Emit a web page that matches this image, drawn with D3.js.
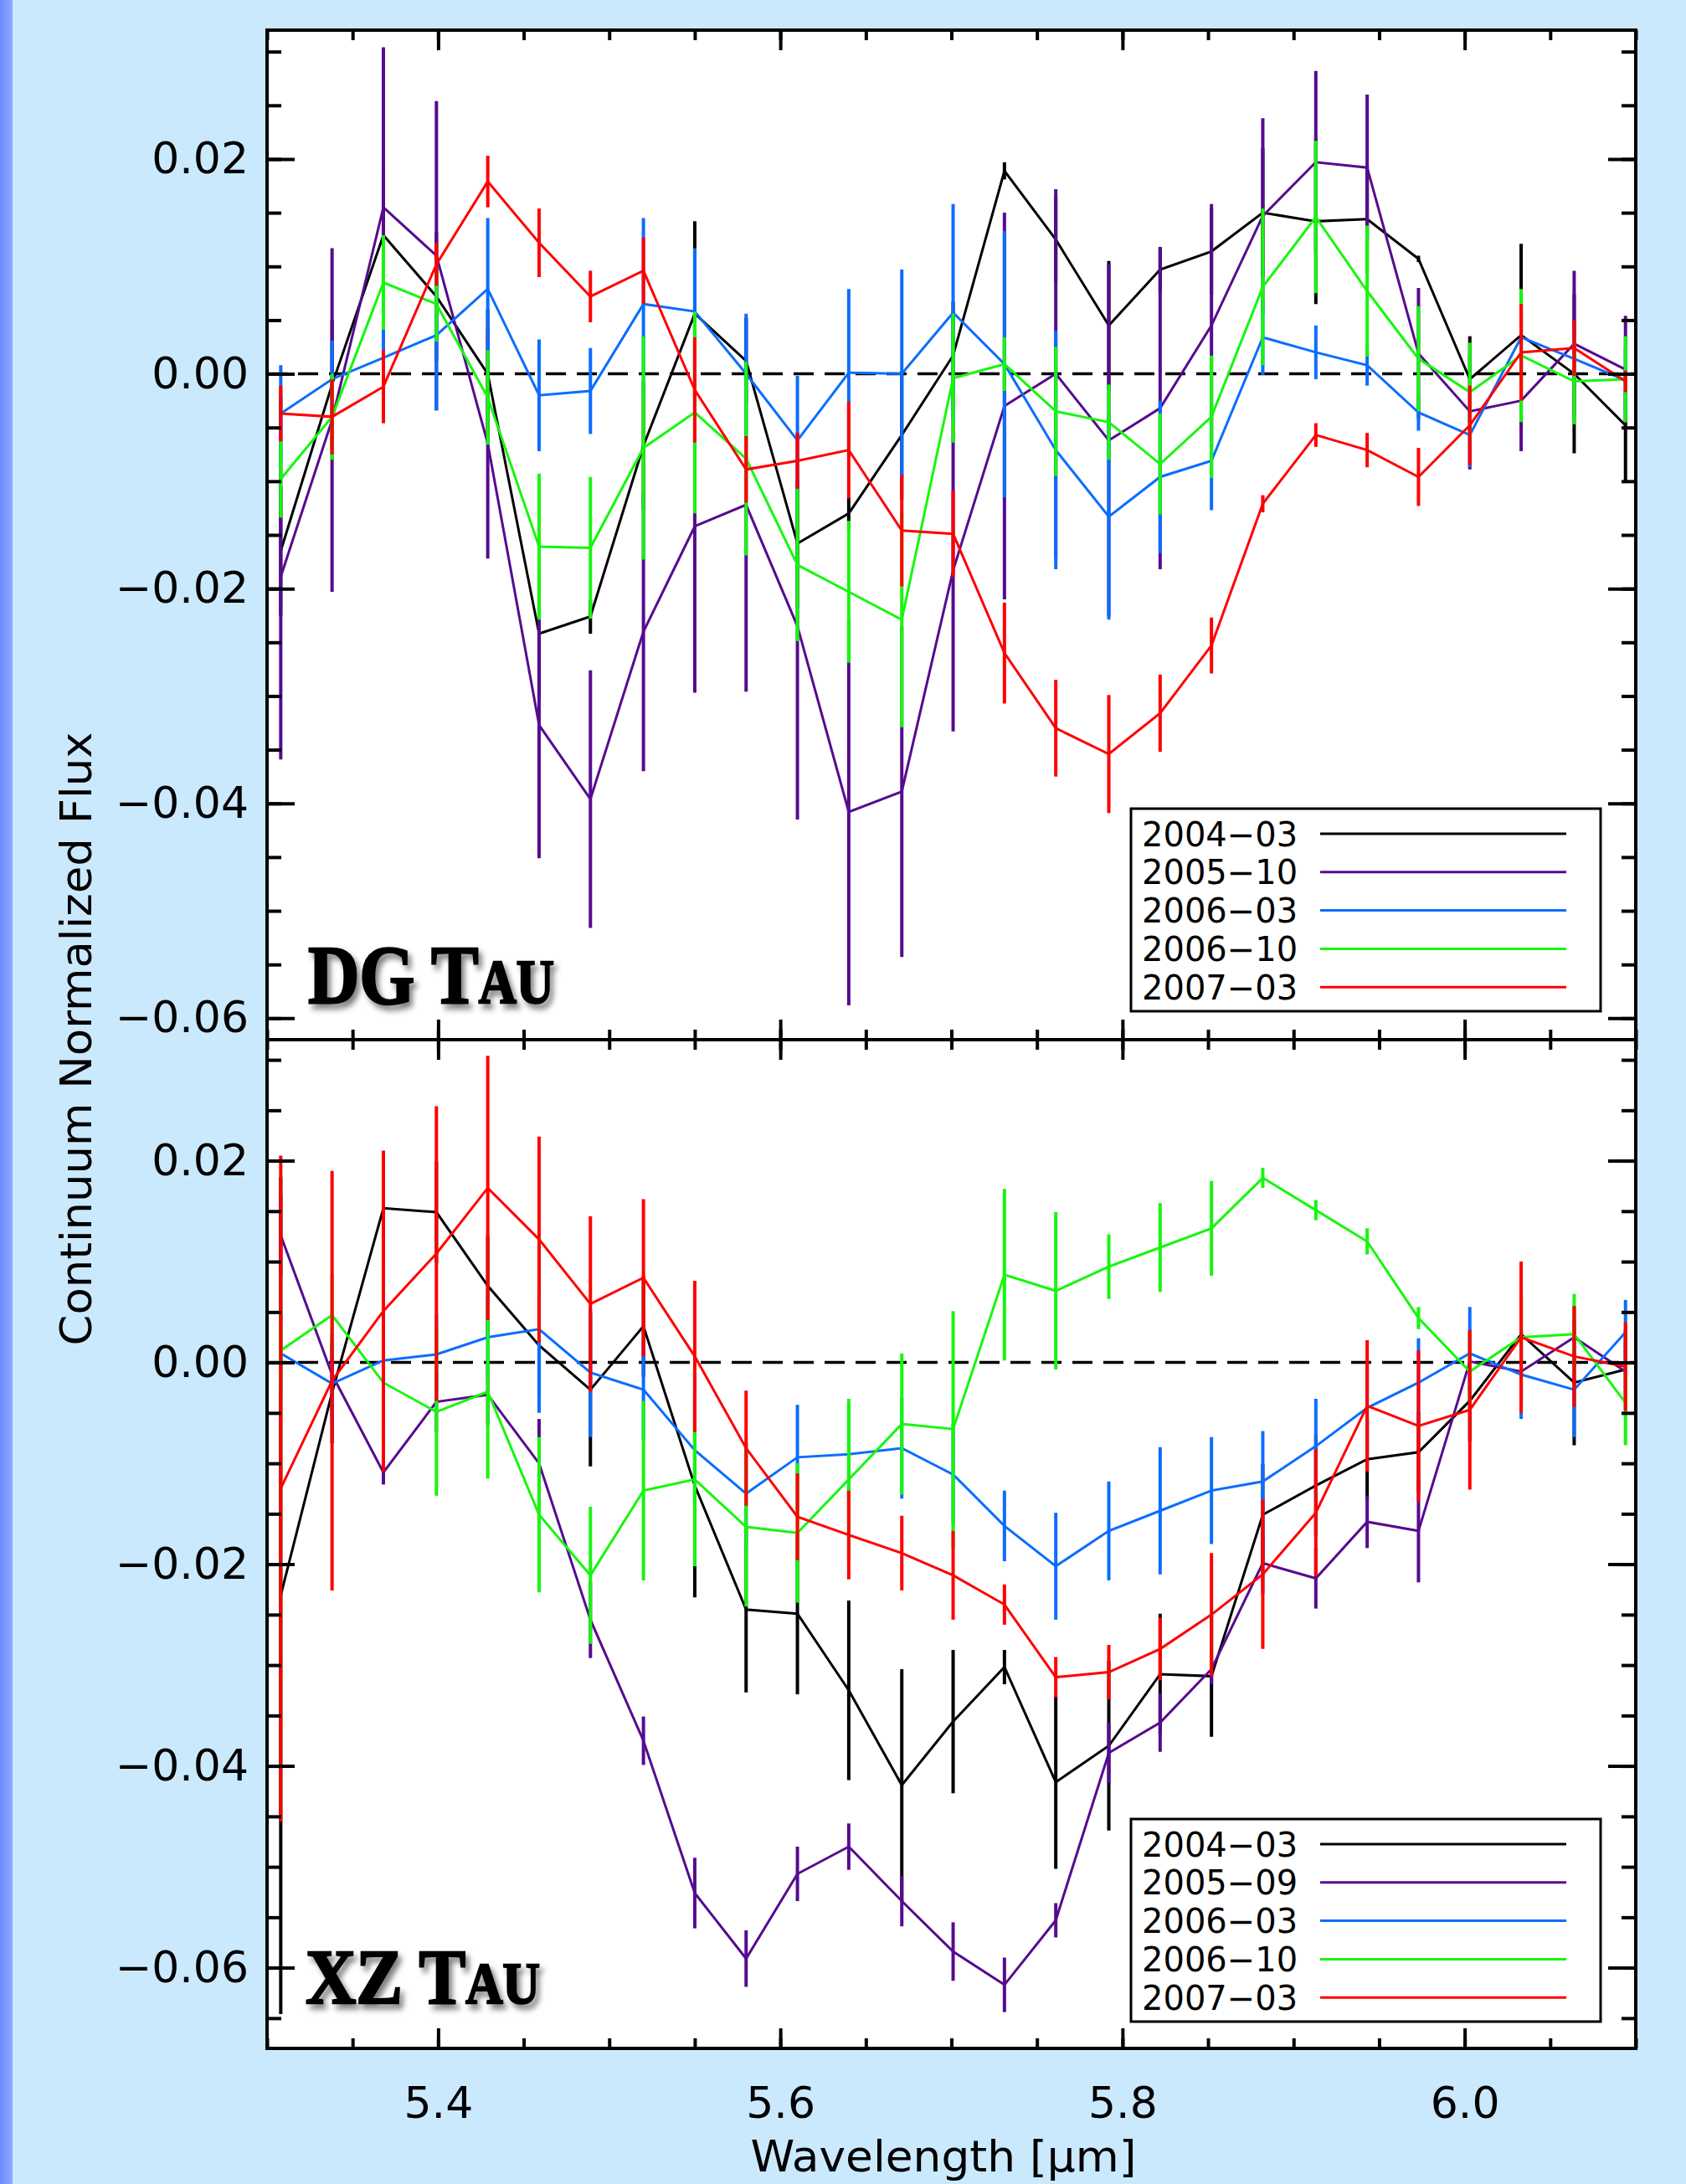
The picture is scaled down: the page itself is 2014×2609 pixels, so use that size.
<!DOCTYPE html>
<html>
<head>
<meta charset="utf-8">
<script src="https://cdn.jsdelivr.net/npm/d3@7"></script>
<style>
html, body { margin: 0; padding: 0; background: #cbe9fd; }
svg { display: block; }
</style>
</head>
<body>
<svg id="fig" width="2014" height="2609" font-family="DejaVu Sans, sans-serif"></svg>
<script>
// wavelength of each spectral bin (micron)
var wave = [5.308, 5.338, 5.368, 5.399, 5.429, 5.459, 5.489, 5.520, 5.550, 5.580,
            5.610, 5.640, 5.671, 5.701, 5.731, 5.761, 5.792, 5.822, 5.852, 5.882,
            5.913, 5.943, 5.973, 6.003, 6.033, 6.064, 6.094];

// DG Tau
var dg0403 = [-0.0165, -0.0010, 0.0129, 0.0072, 0.0000, -0.0242, -0.0226, -0.0067, 0.0056, 0.0012, -0.0158, -0.0130, -0.0057, 0.0017, 0.0189, 0.0125, 0.0045, 0.0097, 0.0114, 0.0150, 0.0142, 0.0144, 0.0107, -0.0005, 0.0036, 0.0000, -0.0048];
var dg0403Err = [0.006, 0.006, 0.006, 0.006, 0.006, 0.006, 0.0016, 0.006, 0.0086, 0.004, 0.006, 0.0015, 0.006, 0.005, 0.0008, 0.004, 0.006, 0.0021, 0.004, 0.006, 0.0077, 0.005, 0.0003, 0.004, 0.0085, 0.0074, 0.0052];
var dg0510 = [-0.0189, -0.0043, 0.0155, 0.0110, -0.0065, -0.0327, -0.0396, -0.0240, -0.0142, -0.0122, -0.0235, -0.0408, -0.0389, -0.0183, -0.0030, 0.0000, -0.0062, -0.0032, 0.0045, 0.0147, 0.0197, 0.0192, 0.0019, -0.0035, -0.0025, 0.0028, 0.0004];
var dg0510Err = [0.017, 0.016, 0.0149, 0.0144, 0.0107, 0.0124, 0.012, 0.013, 0.0155, 0.0174, 0.018, 0.018, 0.0154, 0.015, 0.018, 0.0172, 0.0164, 0.015, 0.0113, 0.0091, 0.0085, 0.0068, 0.0061, 0.0054, 0.0047, 0.0068, 0.005];
var dg0603 = [-0.0037, -0.0005, 0.0015, 0.0036, 0.0079, -0.0020, -0.0016, 0.0065, 0.0058, 0.0000, -0.0062, 0.0001, 0.0000, 0.0057, 0.0009, -0.0071, -0.0133, -0.0096, -0.0081, 0.0034, 0.0020, 0.0008, -0.0036, -0.0057, 0.0034, 0.0014, -0.0006];
var dg0603Err = [0.0045, 0.0036, 0.0045, 0.007, 0.0066, 0.0052, 0.004, 0.008, 0.0059, 0.0056, 0.006, 0.0078, 0.0097, 0.0101, 0.0124, 0.0111, 0.0096, 0.0071, 0.0046, 0.0035, 0.0025, 0.0019, 0.0017, 0.003, 0.003, 0.003, 0.003];
var dg0610 = [-0.0098, -0.0040, 0.0085, 0.0065, -0.0022, -0.0161, -0.0162, -0.0069, -0.0036, -0.0079, -0.0178, -0.0203, -0.0229, -0.0004, 0.0009, -0.0035, -0.0045, -0.0084, -0.0040, 0.0081, 0.0146, 0.0077, 0.0014, -0.0017, 0.0017, -0.0007, -0.0005];
var dg0610Err = [0.0036, 0.004, 0.0044, 0.0035, 0.0044, 0.0068, 0.0066, 0.0104, 0.0094, 0.009, 0.0071, 0.0066, 0.010, 0.006, 0.0025, 0.006, 0.0035, 0.0047, 0.0057, 0.0073, 0.0071, 0.0061, 0.0049, 0.0046, 0.0062, 0.004, 0.004];
var dg0703 = [-0.0037, -0.0040, -0.0012, 0.0102, 0.0179, 0.0122, 0.0072, 0.0096, -0.0015, -0.0089, -0.0081, -0.0071, -0.0146, -0.0149, -0.0260, -0.0330, -0.0354, -0.0316, -0.0253, -0.0121, -0.0057, -0.0071, -0.0096, -0.0048, 0.0020, 0.0024, -0.0007];
var dg0703Err = [0.0026, 0.0035, 0.0034, 0.0020, 0.0024, 0.0032, 0.0024, 0.0031, 0.0049, 0.0031, 0.0026, 0.0045, 0.0052, 0.0040, 0.0047, 0.0045, 0.0055, 0.0036, 0.0026, 0.0008, 0.0011, 0.0016, 0.0027, 0.0037, 0.0045, 0.0026, 0.001];

// XZ Tau
var xz0403 = [-0.0231, -0.0030, 0.0153, 0.0149, 0.0076, 0.0017, -0.0027, 0.0036, -0.0122, -0.0245, -0.0249, -0.0325, -0.0419, -0.0356, -0.0302, -0.0416, -0.0380, -0.0309, -0.0311, -0.0151, -0.0122, -0.0096, -0.0089, -0.0038, 0.0028, -0.0020, -0.0007];
var xz0403Err = [0.0415, 0.005, 0.005, 0.005, 0.005, 0.005, 0.0076, 0.005, 0.0111, 0.0082, 0.008, 0.0089, 0.0115, 0.0071, 0.0017, 0.0086, 0.0084, 0.006, 0.006, 0.005, 0.005, 0.004, 0.004, 0.004, 0.004, 0.0062, 0.004];
var xz0509 = [0.0126, -0.0012, -0.0109, -0.0039, -0.0032, -0.0100, -0.0255, -0.0375, -0.0526, -0.0591, -0.0507, -0.0480, -0.0534, -0.0584, -0.0617, -0.0553, -0.0387, -0.0357, -0.0304, -0.0199, -0.0214, -0.0158, -0.0167, 0.0001, -0.0009, 0.0025, -0.0009];
var xz0509Err = [0.004, 0.004, 0.0012, 0.003, 0.003, 0.0044, 0.0038, 0.0024, 0.0035, 0.0028, 0.0027, 0.0023, 0.0025, 0.0029, 0.0027, 0.0017, 0.003, 0.0029, 0.0015, 0.003, 0.003, 0.0026, 0.0051, 0.003, 0.003, 0.003, 0.003];
var xz0603 = [0.0009, -0.0021, 0.0002, 0.0008, 0.0025, 0.0033, -0.0010, -0.0027, -0.0087, -0.0130, -0.0094, -0.0091, -0.0085, -0.0111, -0.0162, -0.0202, -0.0167, -0.0147, -0.0127, -0.0118, -0.0083, -0.0045, -0.0020, 0.0009, -0.0012, -0.0027, 0.0030];
var xz0603Err = [0.004, 0.004, 0.004, 0.004, 0.004, 0.0083, 0.0064, 0.005, 0.005, 0.005, 0.0052, 0.005, 0.005, 0.005, 0.0035, 0.0053, 0.0049, 0.0063, 0.0053, 0.005, 0.0047, 0.0045, 0.0044, 0.0046, 0.0044, 0.0047, 0.0032];
var xz0610 = [0.0012, 0.0047, -0.0020, -0.0049, -0.0029, -0.0151, -0.0211, -0.0127, -0.0116, -0.0163, -0.0169, -0.0116, -0.0061, -0.0066, 0.0087, 0.0071, 0.0095, 0.0114, 0.0133, 0.0183, 0.0151, 0.0120, 0.0044, -0.0009, 0.0025, 0.0028, -0.0040];
var xz0610Err = [0.004, 0.004, 0.004, 0.0083, 0.0086, 0.0077, 0.0068, 0.0089, 0.0086, 0.0079, 0.0069, 0.008, 0.007, 0.0117, 0.0085, 0.0078, 0.0032, 0.0044, 0.0047, 0.001, 0.001, 0.0013, 0.0011, 0.004, 0.004, 0.004, 0.0042];
var xz0703 = [-0.0125, -0.0018, 0.0051, 0.0108, 0.0173, 0.0122, 0.0058, 0.0084, 0.0006, -0.0085, -0.0153, -0.0171, -0.0189, -0.0211, -0.0240, -0.0312, -0.0307, -0.0284, -0.0250, -0.0210, -0.0149, -0.0043, -0.0063, -0.0047, 0.0025, 0.0006, -0.0004];
var xz0703Err = [0.033, 0.0208, 0.0159, 0.0146, 0.0131, 0.0102, 0.0087, 0.0078, 0.0075, 0.0057, 0.0043, 0.0044, 0.0037, 0.0044, 0.002, 0.002, 0.0027, 0.0031, 0.0061, 0.0074, 0.0063, 0.0065, 0.0075, 0.0079, 0.0075, 0.005, 0.0044];

var datesDG = ["2004\u221203", "2005\u221210", "2006\u221203", "2006\u221210", "2007\u221203"];
var datesXZ = ["2004\u221203", "2005\u221209", "2006\u221203", "2006\u221210", "2007\u221203"];
var colors = ["#000000", "#560b8f", "#0b6dff", "#17f60e", "#ff0000"];

var yTicks = [0.02, 0.00, -0.02, -0.04, -0.06];
var xTicks = [5.4, 5.6, 5.8, 6.0];

var width = 2014, height = 2609;
var left = 319, right = 1954;
var sans = '"DejaVu Sans", sans-serif';

var svg = d3.select('#fig');
var defs = svg.append('defs');

svg.append('rect').attr('width', width).attr('height', height).attr('fill', '#cbe9fd');

// the blue strip down the left edge
var grad = defs.append('linearGradient').attr('id', 'edge');
grad.append('stop').attr('offset', '0%').attr('stop-color', '#6a8cff');
grad.append('stop').attr('offset', '100%').attr('stop-color', '#90abff');
svg.append('rect').attr('width', 15).attr('height', height).attr('fill', 'url(#edge)');

var shadow = defs.append('filter').attr('id', 'shadow')
  .attr('x', '-10%').attr('y', '-30%').attr('width', '130%').attr('height', '170%');
shadow.append('feDropShadow').attr('dx', 5).attr('dy', 6).attr('stdDeviation', 3.5)
  .attr('flood-color', '#000').attr('flood-opacity', 0.5);

var x = d3.scaleLinear().domain([5.30, 6.10]).range([left, right]);

var panels = [
  { top: 36, bottom: 1242, ydom: [-0.062, 0.032],
    series: [[dg0403, dg0403Err], [dg0510, dg0510Err], [dg0603, dg0603Err], [dg0610, dg0610Err], [dg0703, dg0703Err]],
    dates: datesDG, legendTop: 966, name: ['DG T', 'AU'], nameX: 368, nameY: 1198, nameW: 294, nameSize: 100, xLabels: false },
  { top: 1242, bottom: 2447, ydom: [-0.068, 0.032],
    series: [[xz0403, xz0403Err], [xz0509, xz0509Err], [xz0603, xz0603Err], [xz0610, xz0610Err], [xz0703, xz0703Err]],
    dates: datesXZ, legendTop: 2173, name: ['XZ T', 'AU'], nameX: 365, nameY: 2393, nameW: 280, nameSize: 94, xLabels: true }
];

function styleTicks(sel, w) {
  sel.select('.domain').remove();
  sel.selectAll('.tick line').attr('stroke', '#000').attr('stroke-width', w);
  sel.selectAll('.tick text').attr('fill', '#000').attr('font-size', 52)
    .style('font-family', sans);
}

panels.forEach(function(p, pi) {
  var y = d3.scaleLinear().domain(p.ydom).range([p.bottom, p.top]);
  var g = svg.append('g');

  g.append('rect').attr('x', left).attr('y', p.top)
    .attr('width', right - left).attr('height', p.bottom - p.top).attr('fill', '#fff');

  defs.append('clipPath').attr('id', 'clip' + pi).append('rect')
    .attr('x', left).attr('y', p.top).attr('width', right - left).attr('height', p.bottom - p.top);
  var plot = g.append('g').attr('clip-path', 'url(#clip' + pi + ')');

  plot.append('line')
    .attr('x1', left).attr('x2', right).attr('y1', y(0)).attr('y2', y(0))
    .attr('stroke', '#000').attr('stroke-width', 3.5).attr('stroke-dasharray', '24,13');

  var line = d3.line()
    .x(function(d, i) { return x(wave[i]); })
    .y(function(d) { return y(d); });

  p.series.forEach(function(s, si) {
    var vals = s[0], errs = s[1];
    plot.append('path').datum(vals)
      .attr('d', line).attr('fill', 'none')
      .attr('stroke', colors[si]).attr('stroke-width', 3);
    plot.append('g').selectAll('line').data(vals).enter().append('line')
      .attr('x1', function(d, i) { return x(wave[i]); })
      .attr('x2', function(d, i) { return x(wave[i]); })
      .attr('y1', function(d, i) { return y(d + errs[i]); })
      .attr('y2', function(d, i) { return y(d - errs[i]); })
      .attr('stroke', colors[si]).attr('stroke-width', 4);
  });

  // axes, ticks pointing inward
  var yMinor = y.ticks(20), xMinor = x.ticks(16);

  g.append('g').attr('transform', 'translate(' + left + ',0)')
    .call(d3.axisLeft(y).tickValues(yMinor).tickSize(-17).tickFormat(''))
    .call(styleTicks, 4);
  g.append('g').attr('transform', 'translate(' + left + ',0)')
    .call(d3.axisLeft(y).tickValues(yTicks).tickSize(-33).tickPadding(22).tickFormat(d3.format('.2f')))
    .call(styleTicks, 4);
  g.append('g').attr('transform', 'translate(' + right + ',0)')
    .call(d3.axisRight(y).tickValues(yMinor).tickSize(-17).tickFormat(''))
    .call(styleTicks, 4);
  g.append('g').attr('transform', 'translate(' + right + ',0)')
    .call(d3.axisRight(y).tickValues(yTicks).tickSize(-33).tickFormat(''))
    .call(styleTicks, 4);

  g.append('g').attr('transform', 'translate(0,' + p.top + ')')
    .call(d3.axisTop(x).tickValues(xMinor).tickSize(-12).tickFormat(''))
    .call(styleTicks, 4);
  g.append('g').attr('transform', 'translate(0,' + p.top + ')')
    .call(d3.axisTop(x).tickValues(xTicks).tickSize(-24).tickFormat(''))
    .call(styleTicks, 4);
  g.append('g').attr('transform', 'translate(0,' + p.bottom + ')')
    .call(d3.axisBottom(x).tickValues(xMinor).tickSize(-12).tickFormat(''))
    .call(styleTicks, 4);
  g.append('g').attr('transform', 'translate(0,' + p.bottom + ')')
    .call(d3.axisBottom(x).tickValues(xTicks).tickSize(-24).tickPadding(46)
      .tickFormat(p.xLabels ? d3.format('.1f') : ''))
    .call(styleTicks, 4);

  g.append('rect').attr('x', left).attr('y', p.top)
    .attr('width', right - left).attr('height', p.bottom - p.top)
    .attr('fill', 'none').attr('stroke', '#000').attr('stroke-width', 4);

  // legend
  var lg = g.append('g').attr('transform', 'translate(1351,' + p.legendTop + ')');
  lg.append('rect').attr('width', 561).attr('height', 242)
    .attr('fill', '#fff').attr('stroke', '#000').attr('stroke-width', 3);
  p.dates.forEach(function(d, i) {
    var cy = 30 + i * 45.8;
    lg.append('text').attr('x', 13).attr('y', cy + 14.5)
      .attr('font-size', 40).attr('fill', '#000').style('font-family', sans).text(d);
    lg.append('line').attr('x1', 226).attr('x2', 520).attr('y1', cy).attr('y2', cy)
      .attr('stroke', colors[i]).attr('stroke-width', 3);
  });

  // star name, small caps with a soft shadow
  var lab = g.append('text')
    .style('font-family', '"Liberation Serif", "DejaVu Serif", serif')
    .style('font-weight', 'bold').attr('font-size', p.nameSize)
    .attr('fill', '#000').attr('stroke', '#000').attr('stroke-width', 2.5)
    .attr('filter', 'url(#shadow)');
  lab.append('tspan').text(p.name[0]);
  lab.append('tspan').attr('font-size', p.nameSize * 0.735).text(p.name[1]);
  var w = lab.node().getComputedTextLength();
  lab.attr('transform', 'translate(' + p.nameX + ',' + p.nameY + ') scale(' + (p.nameW / w) + ',1)');
});

// axis titles
svg.append('text')
  .attr('transform', 'translate(109,1241) rotate(-90)')
  .attr('text-anchor', 'middle').attr('font-size', 52).attr('fill', '#000')
  .style('font-family', sans)
  .attr('textLength', 733).attr('lengthAdjust', 'spacingAndGlyphs')
  .text('Continuum Normalized Flux');

svg.append('text')
  .attr('x', 1127).attr('y', 2594)
  .attr('text-anchor', 'middle').attr('font-size', 52).attr('fill', '#000')
  .style('font-family', sans)
  .attr('textLength', 461).attr('lengthAdjust', 'spacingAndGlyphs')
  .text('Wavelength [\u03bcm]');
</script>
</body>
</html>
